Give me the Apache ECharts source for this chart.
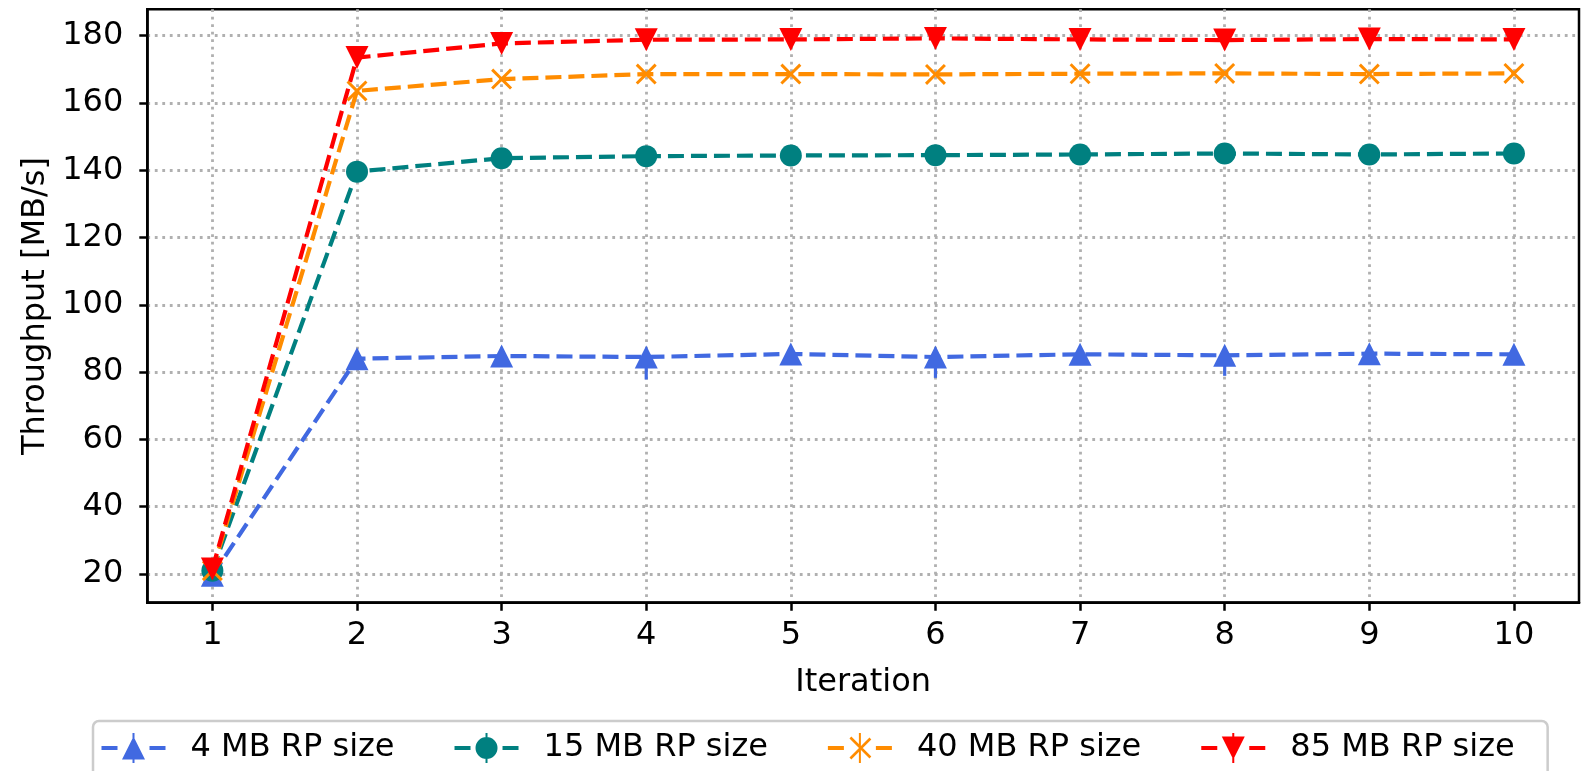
<!DOCTYPE html>
<html>
<head>
<meta charset="utf-8">
<script src="https://cdn.jsdelivr.net/npm/echarts@6/dist/echarts.min.js"></script>
<style>
html,body{margin:0;padding:0;background:#fff;}
#c{width:1582px;height:771px;}
</style>
</head>
<body>
<div id="c"></div>
<script>
// ---- data ----
const iterations = [1, 2, 3, 4, 5, 6, 7, 8, 9, 10];
const names = ['4 MB RP size', '15 MB RP size', '40 MB RP size', '85 MB RP size'];
const mb4  = [19.6, 84.0, 84.8, 84.5, 85.4, 84.5, 85.3, 85.0, 85.5, 85.3];
const mb15 = [21.0, 139.6, 143.6, 144.2, 144.4, 144.5, 144.7, 145.0, 144.7, 145.0];
const mb40 = [21.0, 163.6, 167.1, 168.6, 168.6, 168.5, 168.7, 168.8, 168.6, 168.8];
const mb85 = [21.5, 173.5, 177.7, 178.8, 178.9, 179.2, 178.9, 178.7, 179.0, 178.9];
const errLow4 = [0, 0, 0, 6.7, 0, 6.2, 0, 6.1, 0, 0];
const xTicks = [1, 2, 3, 4, 5, 6, 7, 8, 9, 10];
const yTicks = [20, 40, 60, 80, 100, 120, 140, 160, 180];

// ---- styles ----
const colors = ['#4169e1', '#008080', '#ff8c00', '#ff0000'];
const FONT = 'DejaVu Sans';
const dash = [16, 7];

// legend handle icons (64 x 30 box): dashes + marker + error bar
const lineParts = 'M0,13 L16,13 L16,17 L0,17 Z M48,13 L64,13 L64,17 L48,17 Z M31,0 L33,0 L33,30 L31,30 Z ';
const icons = [
  'path://' + lineParts + 'M20.5,26.5 L32,3.5 L43.5,26.5 Z',
  'path://' + lineParts + 'M21,15 A11,11 0 1,1 43,15 A11,11 0 1,1 21,15 Z',
  'path://' + lineParts + 'M23.4,3.6 L43.4,23.6 L41.6,25.4 L21.6,5.4 Z M43.4,6.4 L23.4,26.4 L21.6,24.6 L41.6,4.6 Z',
  'path://' + lineParts + 'M20.5,3.5 L43.5,3.5 L32,26.5 Z'
];

const seriesData = [mb4, mb15, mb40, mb85];
const xMarker = 'path://M0,2 L2,0 L10,8 L18,0 L20,2 L12,10 L20,18 L18,20 L10,12 L2,20 L0,18 L8,10 Z';
const symbols = ['triangle', 'circle', xMarker, 'triangle'];
const symSizes = [23, 22, 21, 23];
const symRot = [0, 0, 0, 180];

const series = [{
  type: 'custom',
  name: 'err',
  z: 1,
  data: iterations.map((x, i) => [x, mb4[i], errLow4[i]]).filter(d => d[2] > 0),
  encode: {x: 0, y: 1},
  renderItem: function (params, api) {
    const x = api.value(0), y = api.value(1), e = api.value(2);
    const p1 = api.coord([x, y - e]);
    const p2 = api.coord([x, y]);
    return {
      type: 'line',
      shape: {x1: p1[0], y1: p1[1], x2: p2[0], y2: p2[1]},
      style: {stroke: colors[0], lineWidth: 3.2}
    };
  },
  silent: true
}];
seriesData.forEach((arr, k) => {
  series.push({
    type: 'line',
    name: names[k],
    z: 2,
    data: iterations.map((x, i) => [x, arr[i]]),
    symbol: symbols[k],
    symbolSize: symSizes[k],
    symbolRotate: symRot[k],
    showAllSymbol: true,
    color: colors[k],
    itemStyle: {color: colors[k], borderWidth: 0},
    lineStyle: {color: colors[k], width: 4.2, type: dash},
    emphasis: {disabled: true}
  });
});

const chart = echarts.init(document.getElementById('c'), null, {renderer: 'canvas'});
chart.setOption({
  animation: false,
  backgroundColor: '#fff',
  grid: {
    left: 147.3, top: 9.3, width: 1431.7, height: 593.4,
    show: true, borderColor: '#000', borderWidth: 2.5, backgroundColor: 'transparent'
  },
  xAxis: {
    type: 'value', min: 0.55, max: 10.45,
    name: 'Iteration', nameLocation: 'middle', nameGap: 64,
    nameTextStyle: {fontFamily: FONT, fontSize: 32, color: '#000'},
    axisLine: {show: true, lineStyle: {color: '#000', width: 2.5}},
    axisTick: {show: true, customValues: xTicks, length: 8, lineStyle: {color: '#000', width: 2.5}},
    axisLabel: {customValues: xTicks, margin: 17, fontFamily: FONT, fontSize: 32, color: '#000'},
    splitLine: {show: true, lineStyle: {color: '#b0b0b0', width: 2.8, type: [2.8, 4.7]}}
  },
  yAxis: {
    type: 'value', min: 11.47, max: 187.85,
    name: 'Throughput [MB/s]', nameLocation: 'middle', nameGap: 92, nameRotate: 90,
    nameTextStyle: {fontFamily: FONT, fontSize: 32, color: '#000'},
    axisLine: {show: true, lineStyle: {color: '#000', width: 2.5}},
    axisTick: {show: true, customValues: yTicks, length: 8, lineStyle: {color: '#000', width: 2.5}},
    axisLabel: {customValues: yTicks, margin: 24, fontFamily: FONT, fontSize: 32, color: '#000'},
    splitLine: {show: true, lineStyle: {color: '#b0b0b0', width: 2.8, type: [2.8, 4.7]}}
  },
  legend: {
    left: 93, top: 721,
    orient: 'horizontal',
    padding: [11, 33, 40, 8.5],
    itemGap: 60,
    itemWidth: 64, itemHeight: 30,
    borderColor: '#cccccc', borderWidth: 2.5, borderRadius: 6,
    backgroundColor: '#fff',
    selectedMode: false,
    itemStyle: {borderWidth: 0},
    textStyle: {fontFamily: FONT, fontSize: 32, color: '#000', padding: [0, 0, 0, 20], lineHeight: 30},
    data: names.map((n, k) => ({name: n, icon: icons[k], itemStyle: {color: colors[k], borderWidth: 0}}))
  },
  series: series
});
</script>
</body>
</html>
